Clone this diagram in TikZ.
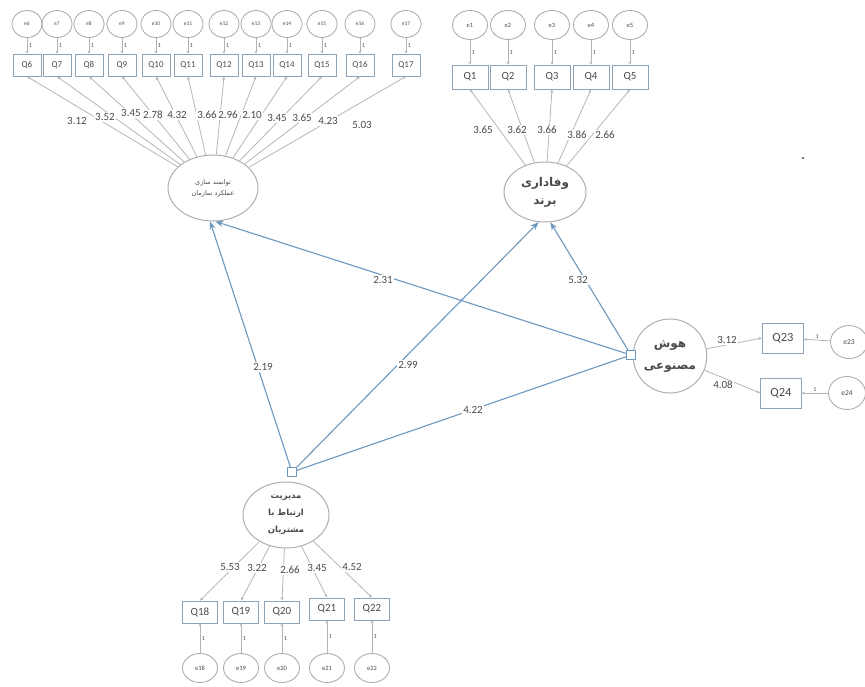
\documentclass[tikz,border=0pt]{standalone}
\usepackage{fontspec}
\setmainfont{Carlito}
\newfontfamily\fa[Script=Arabic]{DejaVu Sans}
\TeXXeTstate=1
\usetikzlibrary{shapes.geometric,arrows.meta}
\definecolor{pathc}{HTML}{6E97BC}
\definecolor{measc}{HTML}{B2B6BA}
\definecolor{boxc}{HTML}{8FA3B6}
\definecolor{circc}{HTML}{AEAEAE}
\definecolor{txtc}{HTML}{4A4A4A}
\begin{document}
\begin{tikzpicture}[x=1pt,y=-1pt,
  every node/.style={text=txtc},
  errnode/.style={ellipse, draw=circc, line width=0.9pt, inner sep=0pt},
  errsmall/.style={errnode, minimum width=30pt, minimum height=27pt, font=\fontsize{5.5}{6}\selectfont},
  errmid/.style={errnode, minimum width=35pt, minimum height=29pt, font=\fontsize{6.5}{7}\selectfont},
  errbig/.style={errnode, minimum width=37pt, minimum height=33pt, font=\fontsize{7.5}{8}\selectfont},
  obsnode/.style={rectangle, draw=boxc, line width=0.9pt, inner sep=0pt},
  obssmall/.style={obsnode, minimum width=28pt, minimum height=22pt, font=\fontsize{9}{10}\selectfont},
  obsmid/.style={obsnode, minimum width=36pt, minimum height=24pt, font=\fontsize{11}{12}\selectfont},
  obsbig/.style={obsnode, minimum width=41pt, minimum height=30pt, font=\fontsize{12.5}{13}\selectfont},
  latnode/.style={ellipse, draw=circc, line width=1pt, inner sep=0pt, align=center},
  meas/.style={draw=measc, line width=0.8pt, -{Stealth[length=3.5pt,width=3pt]}},
  errarrow/.style={draw=measc, line width=0.8pt, -{Stealth[length=3pt,width=3pt]}},
  struct/.style={draw=pathc, line width=1.1pt, -{Stealth[length=8pt,width=6pt]}},
  plainlink/.style={draw=pathc, line width=1.1pt},
  junction/.style={rectangle, draw=pathc, fill=white, line width=0.9pt, minimum size=9pt, inner sep=0pt},
  one/.style={font=\fontsize{6}{6}\selectfont, inner sep=1.5pt},
  coef/.style={fill=white, inner sep=1pt, font=\fontsize{11}{12}\selectfont}
]
\useasboundingbox (0,0) rectangle (865,686);

% latent variables
\node[latnode, minimum width=90pt, minimum height=66pt, font=\fa\fontsize{6.5}{11}\selectfont] (tl) at (213,188)
  {\beginR توانمند سازی\endR\\\beginR عملکرد سازمان\endR};
\node[latnode, minimum width=82pt, minimum height=60pt, font=\fa\bfseries\fontsize{12}{18}\selectfont] (tr) at (545,192)
  {\beginR وفاداری\endR\\\beginR برند\endR};
\node[latnode, minimum width=70pt, minimum height=74pt, font=\fa\bfseries\fontsize{12}{22}\selectfont] (rt) at (670,356)
  {\beginR هوش\endR\\\beginR مصنوعی\endR};
\node[latnode, minimum width=86pt, minimum height=66pt, font=\fa\bfseries\fontsize{8.5}{17}\selectfont] (bt) at (286,515)
  {\beginR مدیریت\endR\\\beginR ارتباط با\endR\\\beginR مشتریان\endR};

% junction squares on the exogenous constructs
\node[junction] (jb) at (292,472) {};
\node[junction] (jr) at (631,355) {};

% indicators Q6..Q17 with errors e6..e17
\foreach \x [count=\i from 6] in {27,57,89,122,156,188,224,256,287,322,360,406} {
  \node[errsmall] (e\i) at (\x,24) {e\i};
  \node[obssmall] (q\i) at (\x,65) {Q\i};
  \draw[errarrow] (e\i) -- node[right, one] {1} (q\i);
  \draw[meas] (tl) -- (q\i.south);
}

% indicators Q1..Q5 with errors e1..e5
\foreach \x [count=\i] in {470,508,552,591,630} {
  \node[errmid] (e\i) at (\x,25) {e\i};
  \node[obsmid] (q\i) at (\x,77) {Q\i};
  \draw[errarrow] (e\i) -- node[right, one] {1} (q\i);
  \draw[meas] (tr) -- (q\i.south);
}

% indicators Q18..Q22 with errors e18..e22
\foreach \x/\y [count=\i from 18] in {200/612,241/612,282/612,327/609,372/609} {
  \node[errmid] (e\i) at (\x,668) {e\i};
  \node[obsmid, minimum width=35pt, minimum height=22pt] (q\i) at (\x,\y) {Q\i};
  \draw[errarrow] (e\i) -- node[right, one] {1} (q\i);
  \draw[meas] (bt) -- (q\i.north);
}

% indicators Q23, Q24 with errors e23, e24
\node[obsbig] (q23) at (783,338) {Q23};
\node[obsbig] (q24) at (781,393) {Q24};
\node[errbig] (e23) at (849,342) {e23};
\node[errbig] (e24) at (847,393) {e24};
\draw[errarrow] (e23) -- node[above, one] {1} (q23);
\draw[errarrow] (e24) -- node[above, one] {1} (q24);
\draw[meas] (rt) -- (q23.west);
\draw[meas] (rt) -- (q24.west);

% structural paths
\draw[struct] (jb) -- (tl.-95);
\draw[struct] (jb) -- (tr.-102);
\draw[plainlink] (jb) -- (jr);
\draw[struct] (jr) -- (tl.-86);
\draw[struct] (jr) -- (tr.-80);

% path coefficients
\foreach \v/\x/\y in {3.12/77/121, 3.52/105/117, 3.45/131/113, 2.78/153/115, 4.32/177/115,
  3.66/207/115, 2.96/228/115, 2.10/252/115, 3.45/277/118, 3.65/302/118, 4.23/328/121, 5.03/362/125,
  3.65/483/130, 3.62/517/130, 3.66/547/130, 3.86/577/135, 2.66/605/135,
  5.53/230/567, 3.22/257/568, 2.66/290/570, 3.45/317/568, 4.52/352/567,
  3.12/727/340, 4.08/723/385,
  2.31/383/280, 2.99/408/365, 4.22/473/410, 2.19/263/367, 5.32/578/280}
  \node[coef] at (\x,\y) {\v};

% stray dot
\fill[txtc] (803,158) circle (1.2pt);
\end{tikzpicture}
\end{document}
